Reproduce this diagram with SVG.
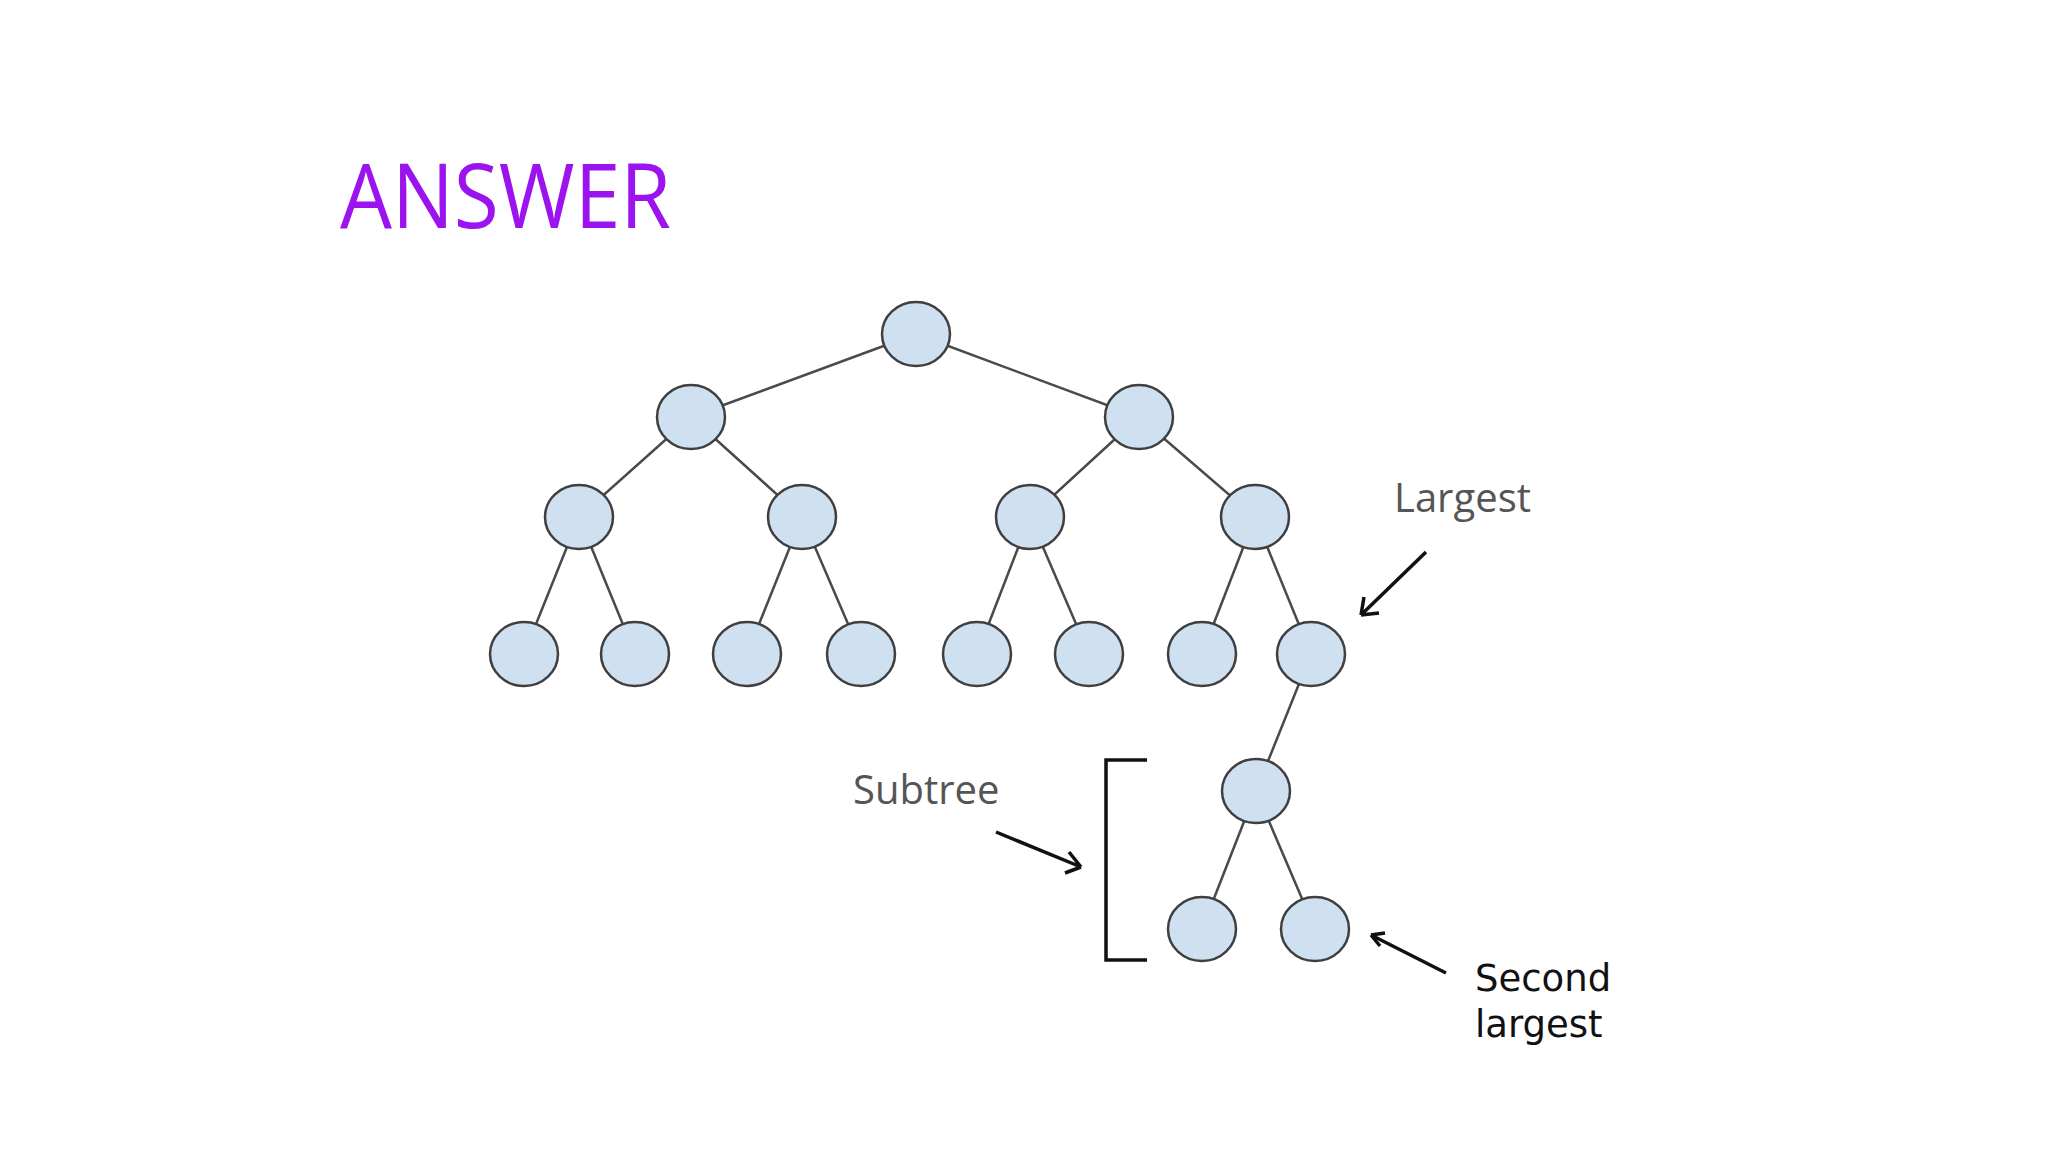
<svg xmlns="http://www.w3.org/2000/svg" width="2048" height="1152" viewBox="0 0 2048 1152">
<defs>
<style>
.n{fill:#cfe0f1;stroke:#3f3f3f;stroke-width:2.5}
.e{stroke:#4a4a4a;stroke-width:2.5;fill:none}
.a{stroke:#111;stroke-width:3.5;fill:none}
.g{font-family:"Open Sans","DejaVu Sans",sans-serif;font-size:40px;fill:#555}
.b{font-family:"DejaVu Sans",sans-serif;font-size:37px;fill:#111}
</style>
</defs>
<rect width="2048" height="1152" fill="#fff"/>
<text x="340" y="228" font-family="'Open Sans','Noto Sans',sans-serif" font-size="90" fill="#9b14ef" textLength="331" lengthAdjust="spacingAndGlyphs">ANSWER</text>
<g id="connectors">
<path class="e" d="M916 334L691 417M916 334L1139 417M691 417L579 517M691 417L802 517M1139 417L1030 517M1139 417L1255 517M579 517L524 654M579 517L635 654M802 517L747 654M802 517L861 654M1030 517L977 654M1030 517L1089 654M1255 517L1202 654M1255 517L1311 654M1311 654L1256 791M1256 791L1202 929M1256 791L1315 929"/>
<path class="a" d="M1426 552L1361 615M1361 615L1364 597M1361 615L1379 613"/>
<path class="a" d="M996 832L1081 867M1081 867L1069 852M1081 867L1065 873"/>
<path class="a" d="M1446 973L1371 935M1371 935L1380 946M1371 935L1385 933" stroke-width="3"/>
<path class="a" d="M1147 760H1106V960H1147" stroke-width="3.5"/>
</g>
<g id="n0"><ellipse class="n" cx="916" cy="334" rx="34" ry="32"/></g>
<g id="n1"><ellipse class="n" cx="691" cy="417" rx="34" ry="32"/></g>
<g id="n2"><ellipse class="n" cx="1139" cy="417" rx="34" ry="32"/></g>
<g id="n3"><ellipse class="n" cx="579" cy="517" rx="34" ry="32"/></g>
<g id="n4"><ellipse class="n" cx="802" cy="517" rx="34" ry="32"/></g>
<g id="n5"><ellipse class="n" cx="1030" cy="517" rx="34" ry="32"/></g>
<g id="n6"><ellipse class="n" cx="1255" cy="517" rx="34" ry="32"/></g>
<g id="n7"><ellipse class="n" cx="524" cy="654" rx="34" ry="32"/></g>
<g id="n8"><ellipse class="n" cx="635" cy="654" rx="34" ry="32"/></g>
<g id="n9"><ellipse class="n" cx="747" cy="654" rx="34" ry="32"/></g>
<g id="n10"><ellipse class="n" cx="861" cy="654" rx="34" ry="32"/></g>
<g id="n11"><ellipse class="n" cx="977" cy="654" rx="34" ry="32"/></g>
<g id="n12"><ellipse class="n" cx="1089" cy="654" rx="34" ry="32"/></g>
<g id="n13"><ellipse class="n" cx="1202" cy="654" rx="34" ry="32"/></g>
<g id="n14"><ellipse class="n" cx="1311" cy="654" rx="34" ry="32"/></g>
<g id="n15"><ellipse class="n" cx="1256" cy="791" rx="34" ry="32"/></g>
<g id="n16"><ellipse class="n" cx="1202" cy="929" rx="34" ry="32"/></g>
<g id="n17"><ellipse class="n" cx="1315" cy="929" rx="34" ry="32"/></g>
<g id="labels">
<text class="g" x="1394" y="512">Largest</text>
<text class="g" x="853" y="804">Subtree</text>
<text class="b" x="1475" y="991">Second</text>
<text class="b" x="1475" y="1037">largest</text>
</g>
</svg>
